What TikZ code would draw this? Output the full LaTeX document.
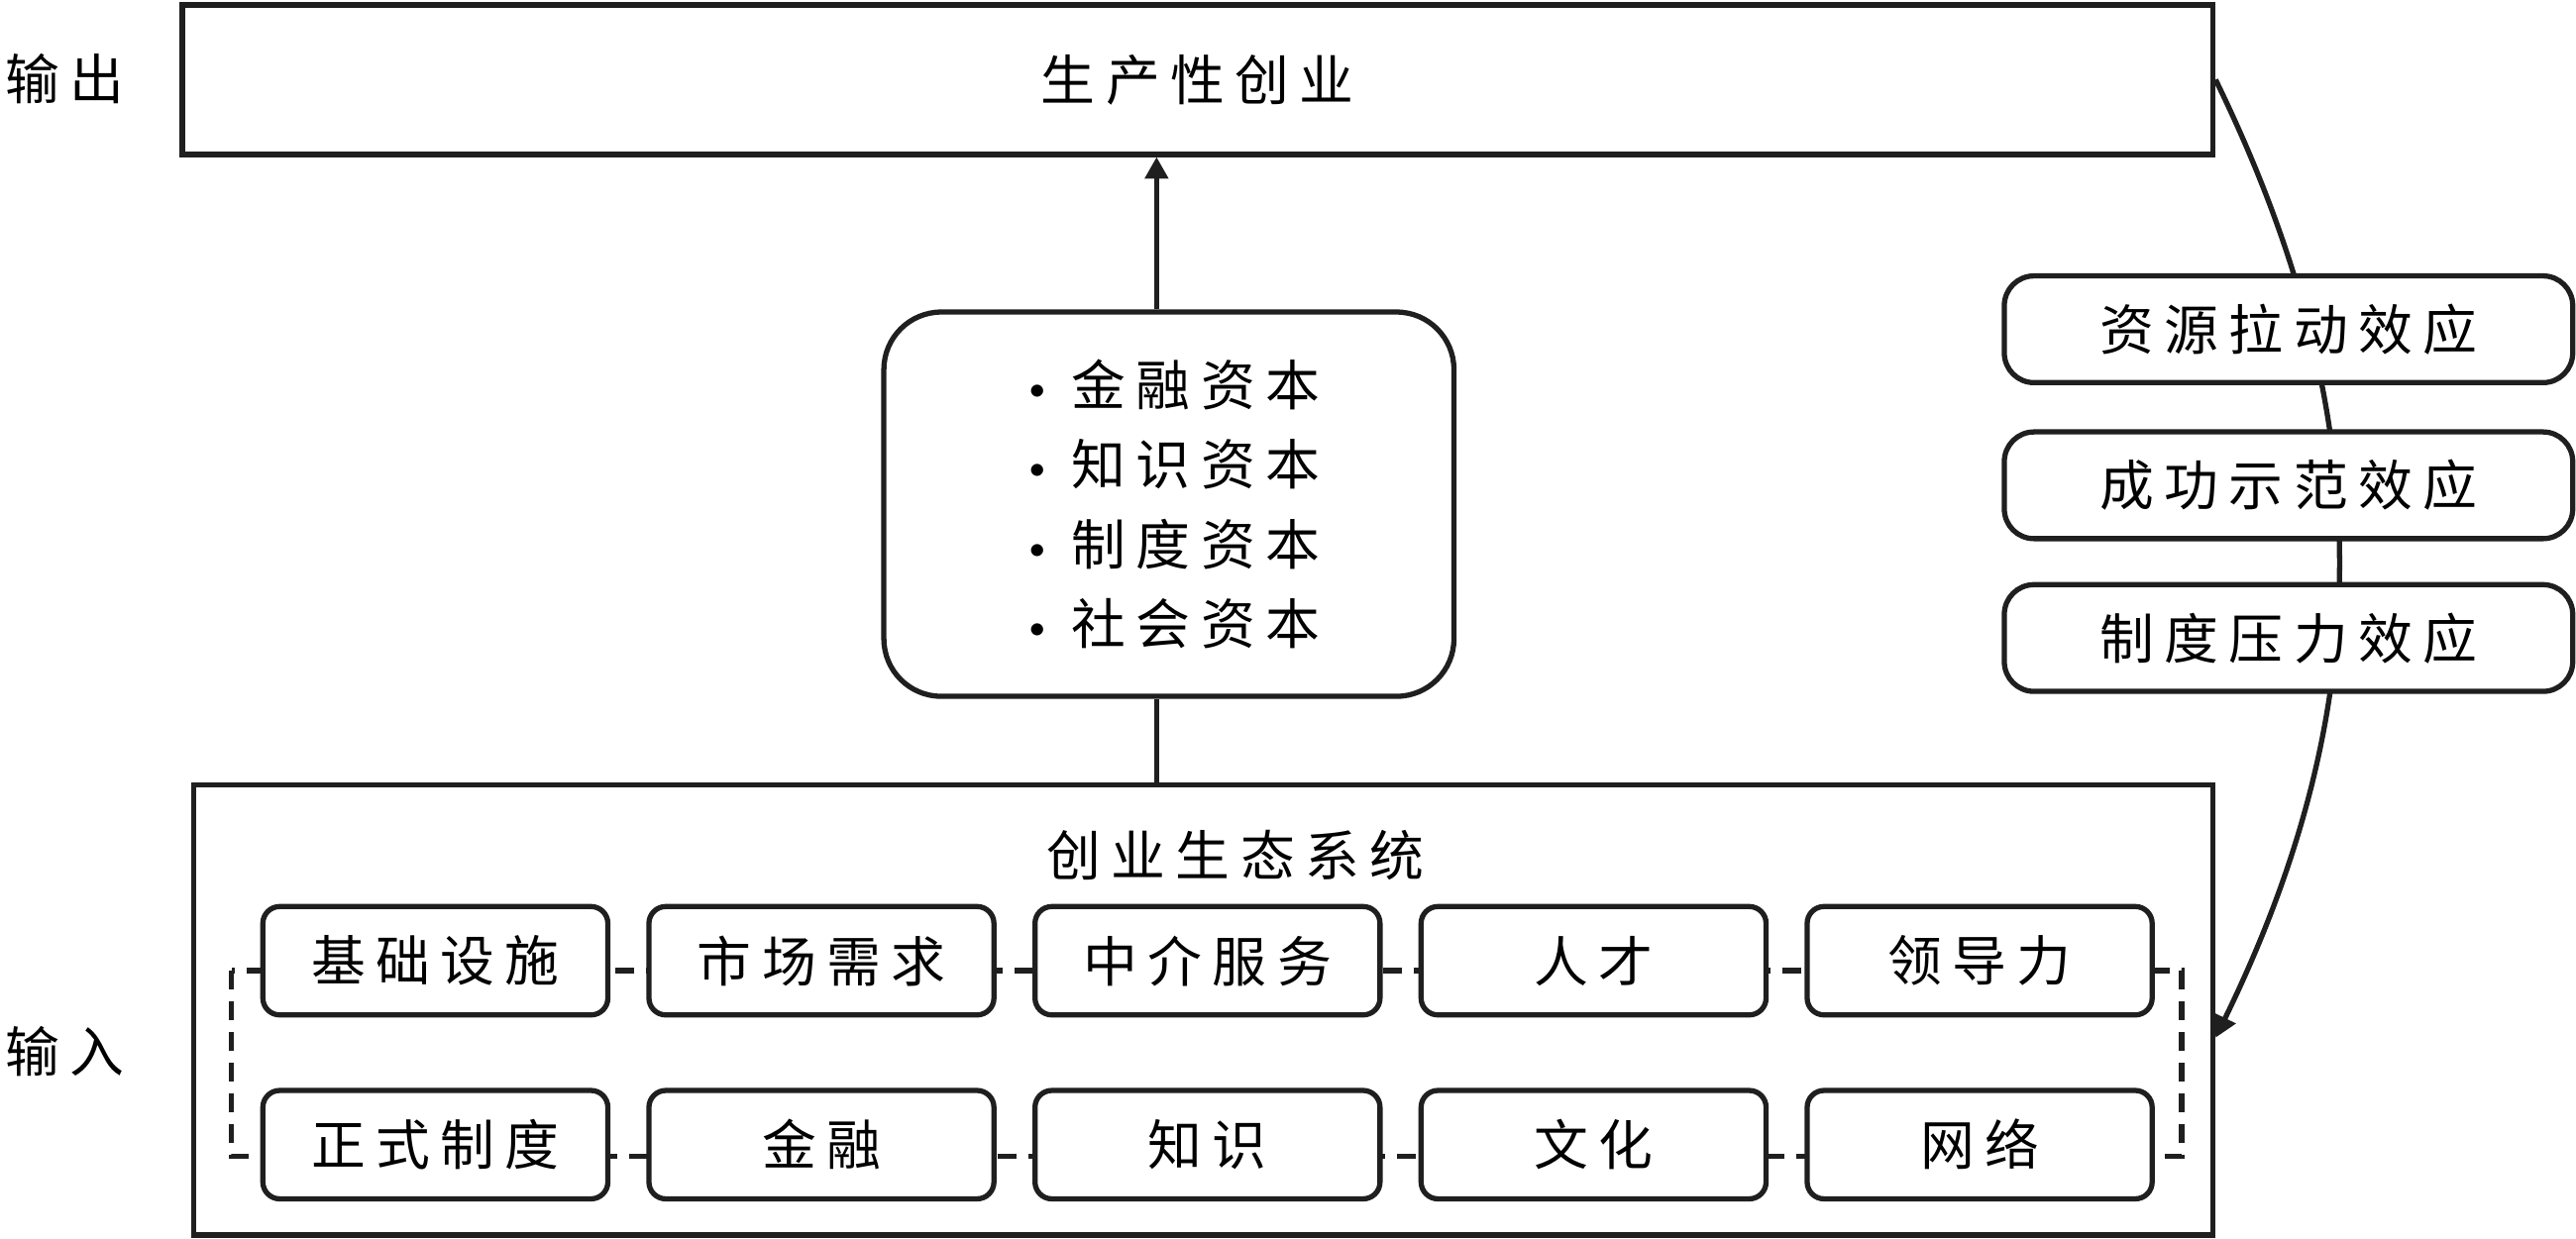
\documentclass[tikz,border=0pt]{standalone}
\usepackage{fontspec}
\newfontfamily\cjk[LetterSpace=19]{Noto Sans CJK SC}
\usetikzlibrary{arrows.meta}
\newcommand{\dpx}{0.016582cm}
\newcommand{\cjkf}{\cjk\fontsize{15.6}{22.9}\selectfont}
\begin{document}
\begin{tikzpicture}[x=\dpx, y=-\dpx,
  ln/.style={draw=black!88, line width=1.5pt},
  frame/.style={ln, rectangle, inner sep=0pt, fill=white, font=\cjkf},
  capbox/.style={frame, rounded corners=0.58cm},
  effbox/.style={frame, rounded corners=0.3cm, minimum width=346*\dpx, minimum height=65*\dpx},
  elem/.style={frame, rounded corners=0.17cm, minimum width=210*\dpx, minimum height=66*\dpx},
  lbl/.style={inner sep=0pt, font=\cjkf},
  tip/.style={-{Triangle[width=0.23cm,length=0.22cm]}},
  dsh/.style={draw=black!88, line width=1.5pt, dash pattern=on 0.19cm off 0.12cm}
]
\useasboundingbox (0,0) rectangle (1568,754);

% labels
\node[lbl, anchor=west] (lout) at (3,48) {输出};
\node[lbl, anchor=west] (lin) at (3,640) {输入};

% output box
\node[frame, minimum width=1236*\dpx, minimum height=91*\dpx] (out) at (729,48.5) {生产性创业};

% capital box
\node[capbox, minimum width=347*\dpx, minimum height=234*\dpx, align=left] (cap) at (711.5,307)
 {{\rmfamily\textbullet}\hspace{0.15cm}金融资本\\
  {\rmfamily\textbullet}\hspace{0.15cm}知识资本\\
  {\rmfamily\textbullet}\hspace{0.15cm}制度资本\\
  {\rmfamily\textbullet}\hspace{0.15cm}社会资本};

% ecosystem box
\node[frame, fill=none, minimum width=1229*\dpx, minimum height=274*\dpx] (eco) at (732.5,615) {};
\node[lbl] (ecot) at (752,521) {创业生态系统};

% dashed loop
\coordinate (dla) at (141,591);
\coordinate (dlb) at (1328,704);
\draw[dsh] (dla) rectangle (dlb);

% elements
\node[elem] (b11) at (265,585) {基础设施};
\node[elem] (b12) at (500,585) {市场需求};
\node[elem] (b13) at (735,585) {中介服务};
\node[elem] (b14) at (970,585) {人才};
\node[elem] (b15) at (1205,585) {领导力};
\node[elem] (b21) at (265,697) {正式制度};
\node[elem] (b22) at (500,697) {金融};
\node[elem] (b23) at (735,697) {知识};
\node[elem] (b24) at (970,697) {文化};
\node[elem] (b25) at (1205,697) {网络};

% vertical connectors
\coordinate (ax) at (704,0);
\draw[ln, tip] (cap.north -| ax) -- (out.south -| ax);
\draw[ln] (cap.south -| ax) -- (eco.north -| ax);

% feedback curve
\draw[ln, tip] (out.east) to[bend left=26] ([yshift=-0.28cm]eco.east);

% effect boxes
\node[effbox] (e1) at (1393,200.5) {资源拉动效应};
\node[effbox] (e2) at (1393,295.5) {成功示范效应};
\node[effbox] (e3) at (1393,388.5) {制度压力效应};
\end{tikzpicture}
\end{document}
